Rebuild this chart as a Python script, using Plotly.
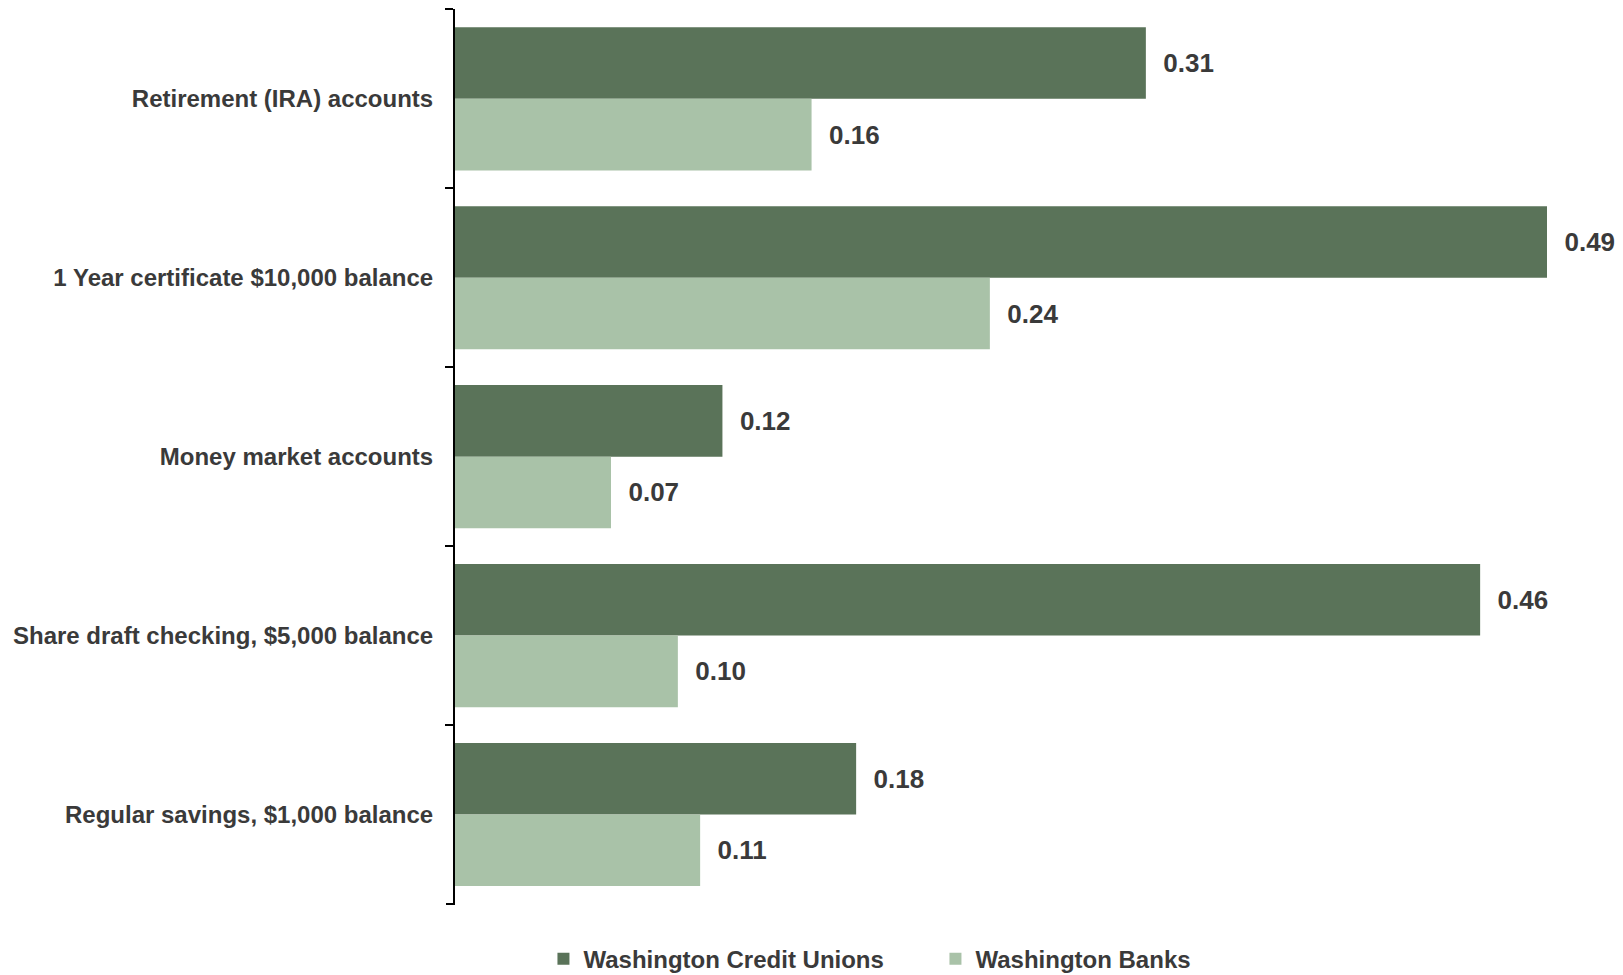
import plotly.graph_objects as go

categories = [
    "Retirement (IRA) accounts",
    "1 Year certificate $10,000 balance",
    "Money market accounts",
    "Share draft checking, $5,000 balance",
    "Regular savings, $1,000 balance",
]
credit_unions = [0.31, 0.49, 0.12, 0.46, 0.18]
banks = [0.16, 0.24, 0.07, 0.10, 0.11]

series_names = ["Washington Credit Unions", "Washington Banks"]
colors = ["#5A7359", "#A9C2A8"]
FONT = "Liberation Sans, Arial, sans-serif"
TEXT_COLOR = "#3a3a3a"

PLOT_W = 1623 - 455 - 76

fig = go.Figure()
for name, vals, color in zip(series_names, [credit_unions, banks], colors):
    fig.add_trace(go.Bar(
        y=categories,
        x=vals,
        name=name,
        orientation="h",
        marker=dict(color=color, line=dict(width=0)),
        text=["\u00a0\u00a0" + f"{v:.2f}" for v in vals],
        textposition="outside",
        cliponaxis=False,
        textfont=dict(family=FONT, size=26, color=TEXT_COLOR, weight="bold"),
    ))

# closing tick at the bottom end of the category axis
fig.add_shape(
    type="line", xref="paper", yref="paper",
    x0=-9 / PLOT_W, x1=0, y0=0, y1=0,
    line=dict(color="black", width=2),
)

fig.update_layout(
    barmode="group",
    bargap=0.2,
    bargroupgap=0,
    width=1623,
    height=975,
    paper_bgcolor="white",
    plot_bgcolor="white",
    margin=dict(l=455, r=76, t=9, b=71, autoexpand=False),
    font=dict(family=FONT, size=24, color=TEXT_COLOR, weight="bold"),
    legend=dict(
        orientation="h",
        x=0.081, xanchor="left",
        y=-0.0615, yanchor="middle",
        entrywidth=347, entrywidthmode="pixels",
        itemwidth=30,
        font=dict(family=FONT, size=24, color=TEXT_COLOR, weight="bold"),
    ),
    xaxis=dict(
        range=[0, 0.49],
        showgrid=False,
        zeroline=False,
        showticklabels=False,
        showline=False,
    ),
    yaxis=dict(
        range=[4.5, -0.502],
        showgrid=False,
        showline=True,
        linecolor="black",
        linewidth=2,
        ticks="outside",
        tickson="boundaries",
        ticklen=8,
        tickwidth=2,
        tickcolor="black",
        ticklabelstandoff=15,
        tickfont=dict(family=FONT, size=24, color=TEXT_COLOR, weight="bold"),
    ),
)

fig.write_html("out.html")
